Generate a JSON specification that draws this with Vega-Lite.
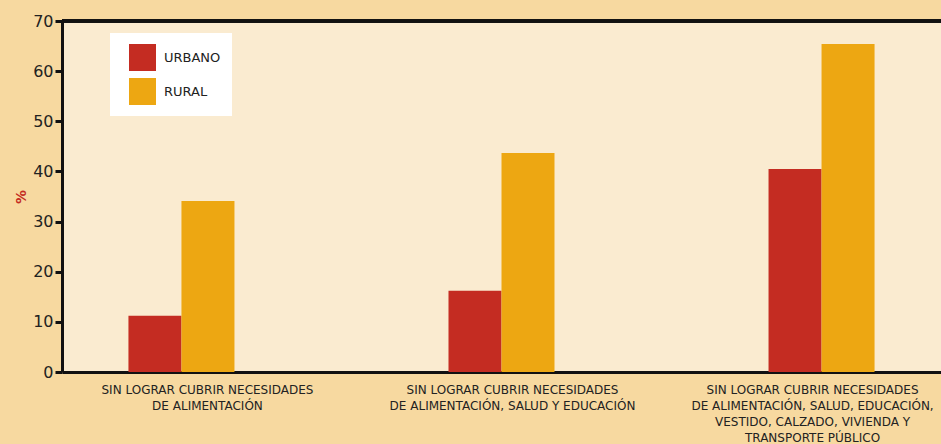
{
  "$schema": "https://vega.github.io/schema/vega-lite/v6.json",
  "width": 879,
  "height": 351,
  "autosize": "none",
  "padding": {"left": 62, "top": 21, "right": 0, "bottom": 72},
  "background": "#F7D9A0",
  "config": {
    "view": {"fill": "#FAEBD0", "stroke": null},
    "font": "DejaVu Sans"
  },
  "data": {
    "values": [
      {"cat": "SIN LOGRAR CUBRIR NECESIDADES|DE ALIMENTACIÓN", "zona": "URBANO", "valor": 11.2},
      {"cat": "SIN LOGRAR CUBRIR NECESIDADES|DE ALIMENTACIÓN", "zona": "RURAL", "valor": 34.1},
      {"cat": "SIN LOGRAR CUBRIR NECESIDADES|DE ALIMENTACIÓN, SALUD Y EDUCACIÓN", "zona": "URBANO", "valor": 16.2},
      {"cat": "SIN LOGRAR CUBRIR NECESIDADES|DE ALIMENTACIÓN, SALUD Y EDUCACIÓN", "zona": "RURAL", "valor": 43.7},
      {"cat": "SIN LOGRAR CUBRIR NECESIDADES|DE ALIMENTACIÓN, SALUD, EDUCACIÓN,|VESTIDO, CALZADO, VIVIENDA Y|TRANSPORTE PÚBLICO", "zona": "URBANO", "valor": 40.5},
      {"cat": "SIN LOGRAR CUBRIR NECESIDADES|DE ALIMENTACIÓN, SALUD, EDUCACIÓN,|VESTIDO, CALZADO, VIVIENDA Y|TRANSPORTE PÚBLICO", "zona": "RURAL", "valor": 65.4}
    ]
  },
  "layer": [
    {
      "mark": {"type": "bar"},
      "encoding": {
        "x": {
          "field": "cat", "type": "nominal", "sort": null,
          "scale": {"paddingInner": 0.3375, "paddingOuter": 0.042},
          "axis": {
            "title": null, "labelAngle": 0, "ticks": false,
            "domainColor": "#111", "domainWidth": 3,
            "labelExpr": "split(datum.label, '|')",
            "labelFontSize": 12, "labelColor": "#222", "labelPadding": 12,
            "labelLineHeight": 16, "labelLimit": 0,
            "labelOffset": {
              "condition": [
                {"test": "datum.index > 0.9", "value": -9},
                {"test": "datum.index > 0.4", "value": 11}
              ],
              "value": 26
            }
          }
        },
        "xOffset": {
          "field": "zona", "type": "nominal", "sort": ["URBANO", "RURAL"],
          "scale": {"paddingOuter": 1, "paddingInner": 0}
        },
        "y": {
          "field": "valor", "type": "quantitative", "title": "%",
          "scale": {"domain": [0, 70], "nice": false},
          "axis": {
            "values": [0, 10, 20, 30, 40, 50, 60, 70],
            "grid": false, "domainColor": "#111", "domainWidth": 3,
            "tickColor": "#111", "tickWidth": 3, "tickSize": 7,
            "labelFontSize": 16, "labelColor": "#222", "labelPadding": 2,
            "titleColor": "#C42C22", "titleFontSize": 14, "titleFontWeight": "bold",
            "titlePadding": 4
          }
        },
        "color": {
          "field": "zona", "type": "nominal", "sort": ["URBANO", "RURAL"],
          "scale": {"domain": ["URBANO", "RURAL"], "range": ["#C42C22", "#EDA712"]},
          "legend": {
            "title": null, "orient": "none", "legendX": 48, "legendY": 12,
            "fillColor": "white", "padding": 11, "symbolOffset": 8,
            "symbolType": "square", "symbolSize": 729, "symbolStrokeWidth": 0,
            "symbolOpacity": 1, "labelFontSize": 13, "labelColor": "#222",
            "labelOffset": 8, "rowPadding": 7
          }
        }
      }
    },
    {
      "mark": {"type": "rule", "strokeWidth": 3, "color": "#111"},
      "encoding": {"y": {"datum": 70}}
    }
  ]
}
